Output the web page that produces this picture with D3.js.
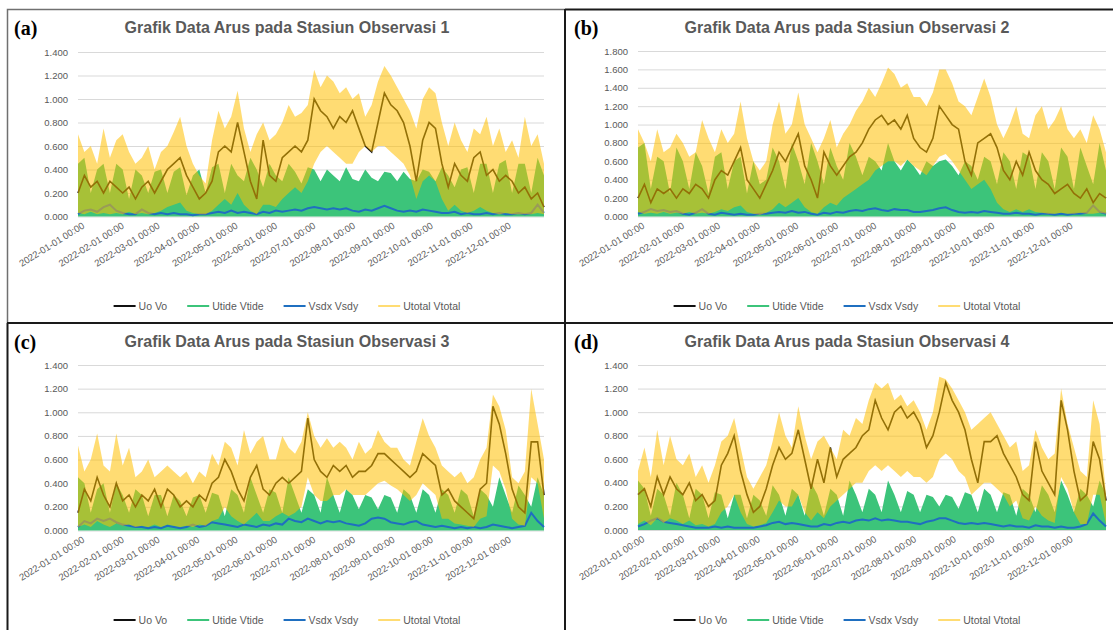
<!DOCTYPE html>
<html>
<head>
<meta charset="utf-8">
<script src="https://cdn.jsdelivr.net/npm/d3@7/dist/d3.min.js"></script>
<style>
  body { margin: 0; background: #fff; }
  svg { display: block; font-family: "Liberation Sans", Arial, sans-serif; }
</style>
</head>
<body>
<div class="canvas"></div>
<script>
// labels
const titles = [
  "Grafik Data Arus pada Stasiun Observasi 1",
  "Grafik Data Arus pada Stasiun Observasi 2",
  "Grafik Data Arus pada Stasiun Observasi 3",
  "Grafik Data Arus pada Stasiun Observasi 4"
];
const tags = ["(a)", "(b)", "(c)", "(d)"];
const seriesNames = ["Uo Vo", "Utide Vtide", "Vsdx Vsdy", "Utotal Vtotal"];
const monthTicks = [
  "2022-01-01 00:00", "2022-02-01 00:00", "2022-03-01 00:00", "2022-04-01 00:00",
  "2022-05-01 00:00", "2022-06-01 00:00", "2022-07-01 00:00", "2022-08-01 00:00",
  "2022-09-01 00:00", "2022-10-01 00:00", "2022-11-01 00:00", "2022-12-01 00:00"
];
const yTicks14 = [0, 0.2, 0.4, 0.6, 0.8, 1.0, 1.2, 1.4];
const yTicks18 = [0, 0.2, 0.4, 0.6, 0.8, 1.0, 1.2, 1.4, 1.6, 1.8];

// one value every 5 days from 2022-01-01
const stepDays = 5;

// station 1
const uoA = [0.2,0.35,0.25,0.3,0.2,0.3,0.25,0.2,0.25,0.15,
  0.25,0.3,0.2,0.3,0.4,0.45,0.5,0.35,0.25,0.15,
  0.2,0.3,0.55,0.6,0.55,0.8,0.55,0.3,0.15,0.65,
  0.35,0.3,0.5,0.55,0.6,0.55,0.65,1.0,0.9,0.85,
  0.75,0.85,0.8,0.9,0.75,0.6,0.55,0.8,1.05,0.95,
  0.9,0.8,0.6,0.3,0.65,0.8,0.75,0.45,0.25,0.45,
  0.35,0.3,0.5,0.55,0.35,0.4,0.3,0.35,0.3,0.2,
  0.25,0.15,0.2,0.08];
const tideA = [0.45,0.5,0.2,0.4,0.45,0.2,0.45,0.4,0.15,0.4,
  0.35,0.2,0.38,0.4,0.2,0.38,0.42,0.18,0.35,0.4,
  0.2,0.42,0.45,0.2,0.45,0.35,0.3,0.5,0.4,0.25,
  0.45,0.35,0.3,0.45,0.38,0.28,0.42,0.4,0.3,0.4,
  0.35,0.3,0.42,0.32,0.3,0.4,0.33,0.3,0.38,0.37,
  0.3,0.38,0.32,0.3,0.4,0.38,0.3,0.42,0.35,0.25,
  0.4,0.42,0.2,0.45,0.45,0.2,0.45,0.48,0.2,0.45,
  0.45,0.2,0.5,0.35];
const sdxA = [0.02,0.05,0.06,0.04,0.08,0.1,0.05,0.03,0.02,0.02,
  0.06,0.03,0.02,0.03,0.02,0.03,0.02,0.02,0.01,0.02,
  0.02,0.03,0.04,0.03,0.05,0.03,0.04,0.03,0.02,0.04,
  0.03,0.05,0.04,0.05,0.06,0.05,0.07,0.08,0.07,0.06,
  0.07,0.06,0.07,0.05,0.04,0.06,0.05,0.07,0.09,0.07,
  0.05,0.04,0.05,0.04,0.06,0.05,0.04,0.03,0.03,0.04,
  0.02,0.03,0.02,0.02,0.03,0.02,0.03,0.02,0.02,0.03,
  0.02,0.03,0.1,0.03];
const totHiA = [0.7,0.55,0.6,0.45,0.75,0.5,0.65,0.7,0.55,0.45,
  0.5,0.6,0.4,0.55,0.6,0.72,0.85,0.6,0.45,0.35,
  0.28,0.65,0.9,0.75,0.85,1.07,0.75,0.55,0.7,0.8,
  0.65,0.7,0.8,0.95,0.85,0.88,0.95,1.25,1.1,1.2,
  1.15,1.05,1.1,1.0,1.05,0.85,0.95,1.15,1.28,1.2,
  1.1,1.0,0.9,0.75,1.0,1.1,1.05,0.8,0.6,0.8,
  0.65,0.55,0.75,0.7,0.85,0.6,0.75,0.55,0.65,0.5,
  0.85,0.6,0.7,0.45];
const totLoA = [0.03,0.02,0.04,0.02,0.03,0.02,0.03,0.02,0.04,0.02,
  0.03,0.02,0.03,0.05,0.08,0.1,0.12,0.05,0.03,0.02,
  0.02,0.05,0.1,0.15,0.1,0.2,0.1,0.05,0.02,0.1,
  0.1,0.08,0.15,0.2,0.25,0.2,0.3,0.45,0.55,0.6,
  0.55,0.5,0.45,0.45,0.55,0.6,0.55,0.6,0.6,0.55,
  0.5,0.45,0.35,0.15,0.3,0.35,0.3,0.15,0.05,0.1,
  0.05,0.03,0.05,0.08,0.05,0.03,0.02,0.03,0.02,0.02,
  0.02,0.02,0.03,0.02];

// station 2
const uoB = [0.2,0.35,0.15,0.3,0.25,0.3,0.2,0.3,0.25,0.35,
  0.3,0.2,0.4,0.5,0.45,0.6,0.75,0.4,0.3,0.2,
  0.35,0.5,0.7,0.6,0.75,0.9,0.55,0.4,0.2,0.7,
  0.55,0.45,0.55,0.65,0.7,0.8,0.95,1.05,1.1,1.0,
  1.05,0.95,1.1,0.85,0.75,0.7,0.85,1.2,1.1,1.0,
  0.95,0.6,0.45,0.8,0.85,0.9,0.75,0.5,0.4,0.6,
  0.45,0.7,0.5,0.4,0.35,0.25,0.3,0.35,0.25,0.2,
  0.3,0.15,0.25,0.2];
const tideB = [0.75,0.8,0.3,0.65,0.6,0.25,0.75,0.6,0.3,0.7,
  0.55,0.25,0.65,0.7,0.3,0.6,0.65,0.25,0.6,0.35,
  0.4,0.75,0.6,0.3,0.8,0.6,0.35,0.8,0.6,0.35,
  0.75,0.55,0.4,0.8,0.65,0.45,0.65,0.6,0.5,0.8,
  0.6,0.5,0.62,0.55,0.45,0.6,0.55,0.6,0.62,0.55,
  0.45,0.6,0.55,0.4,0.65,0.6,0.35,0.7,0.6,0.3,
  0.7,0.65,0.3,0.7,0.6,0.3,0.75,0.65,0.3,0.75,
  0.55,0.35,0.8,0.5];
const sdxB = [0.03,0.05,0.08,0.06,0.07,0.05,0.06,0.03,0.02,0.04,
  0.08,0.03,0.02,0.04,0.03,0.02,0.03,0.02,0.02,0.03,
  0.03,0.04,0.05,0.04,0.06,0.04,0.05,0.03,0.02,0.04,
  0.03,0.05,0.04,0.06,0.07,0.06,0.08,0.09,0.07,0.06,
  0.08,0.07,0.07,0.05,0.05,0.06,0.07,0.09,0.1,0.07,
  0.05,0.04,0.05,0.04,0.06,0.05,0.04,0.03,0.03,0.04,
  0.03,0.03,0.02,0.03,0.03,0.02,0.03,0.02,0.03,0.03,
  0.04,0.12,0.05,0.03];
const totHiB = [0.95,0.8,0.6,0.95,0.7,0.75,0.9,0.8,0.65,0.7,
  1.05,0.85,0.7,0.95,0.8,0.9,1.25,0.85,0.6,0.5,
  0.6,1.0,1.25,0.9,1.0,1.35,1.0,0.85,0.7,0.85,
  1.05,0.75,0.9,1.0,1.15,1.25,1.4,1.3,1.45,1.62,
  1.55,1.4,1.45,1.3,1.3,1.2,1.35,1.6,1.6,1.45,
  1.25,1.2,1.1,1.3,1.5,1.3,1.0,0.85,1.0,1.2,
  0.9,0.85,1.1,1.2,0.95,1.05,1.2,0.95,0.85,0.95,
  0.8,1.1,0.95,0.7];
const totLoB = [0.05,0.03,0.04,0.03,0.05,0.03,0.04,0.03,0.05,0.03,
  0.04,0.03,0.05,0.08,0.06,0.1,0.12,0.05,0.03,0.02,
  0.04,0.08,0.15,0.1,0.15,0.2,0.1,0.05,0.03,0.1,
  0.15,0.12,0.2,0.25,0.3,0.35,0.4,0.5,0.55,0.6,
  0.6,0.55,0.62,0.55,0.5,0.45,0.55,0.65,0.68,0.6,
  0.5,0.4,0.3,0.35,0.4,0.3,0.15,0.08,0.05,0.08,
  0.05,0.08,0.05,0.04,0.03,0.03,0.04,0.03,0.03,0.04,
  0.03,0.03,0.04,0.03];

// station 3
const uoC = [0.15,0.35,0.25,0.45,0.3,0.2,0.4,0.25,0.3,0.2,
  0.3,0.25,0.35,0.2,0.35,0.3,0.2,0.25,0.2,0.3,
  0.25,0.4,0.45,0.6,0.5,0.35,0.25,0.45,0.55,0.35,
  0.3,0.4,0.45,0.4,0.45,0.5,0.95,0.6,0.5,0.45,
  0.55,0.5,0.55,0.45,0.5,0.5,0.55,0.65,0.65,0.6,
  0.55,0.5,0.45,0.5,0.65,0.6,0.55,0.3,0.35,0.25,
  0.2,0.15,0.1,0.35,0.4,1.05,0.9,0.65,0.35,0.2,
  0.15,0.75,0.75,0.3];
const tideC = [0.45,0.4,0.15,0.35,0.4,0.15,0.4,0.3,0.15,0.35,
  0.3,0.12,0.3,0.3,0.12,0.3,0.25,0.12,0.28,0.3,
  0.15,0.32,0.3,0.12,0.35,0.3,0.15,0.45,0.3,0.15,
  0.35,0.32,0.15,0.45,0.3,0.15,0.35,0.3,0.15,0.45,
  0.3,0.15,0.35,0.3,0.18,0.3,0.28,0.18,0.3,0.28,
  0.15,0.35,0.3,0.15,0.35,0.3,0.15,0.35,0.3,0.15,
  0.35,0.3,0.12,0.35,0.3,0.2,0.45,0.3,0.15,0.38,
  0.3,0.2,0.45,0.3];
const sdxC = [0.03,0.08,0.06,0.1,0.08,0.1,0.07,0.05,0.04,0.03,
  0.03,0.02,0.03,0.02,0.04,0.03,0.02,0.03,0.05,0.03,
  0.04,0.07,0.06,0.05,0.04,0.03,0.05,0.04,0.03,0.05,
  0.04,0.06,0.05,0.1,0.08,0.07,0.1,0.08,0.06,0.08,
  0.07,0.08,0.06,0.05,0.04,0.06,0.1,0.11,0.1,0.07,
  0.06,0.05,0.07,0.08,0.05,0.04,0.03,0.04,0.03,0.02,
  0.03,0.02,0.03,0.02,0.03,0.05,0.04,0.03,0.02,0.03,
  0.04,0.15,0.08,0.03];
const totHiC = [0.72,0.5,0.6,0.82,0.55,0.5,0.82,0.55,0.7,0.45,
  0.5,0.6,0.45,0.5,0.55,0.5,0.45,0.5,0.4,0.5,
  0.45,0.65,0.55,0.75,0.7,0.55,0.85,0.65,0.75,0.8,
  0.6,0.6,0.8,0.7,0.65,0.75,1.0,0.8,0.7,0.78,
  0.7,0.75,0.7,0.6,0.75,0.65,0.7,0.85,0.75,0.7,
  0.7,0.6,0.55,0.75,0.95,0.8,0.7,0.55,0.5,0.45,
  0.5,0.4,0.45,0.6,0.7,1.15,1.05,0.85,0.45,0.4,
  0.5,1.2,0.9,0.6];
const totLoC = [0.03,0.05,0.03,0.08,0.05,0.03,0.06,0.04,0.05,0.03,
  0.04,0.03,0.05,0.03,0.05,0.04,0.03,0.04,0.03,0.05,
  0.04,0.08,0.1,0.2,0.12,0.08,0.05,0.1,0.15,0.08,
  0.08,0.12,0.15,0.12,0.15,0.2,0.45,0.3,0.25,0.25,
  0.3,0.3,0.35,0.3,0.3,0.3,0.35,0.4,0.42,0.38,
  0.35,0.3,0.25,0.3,0.4,0.35,0.3,0.1,0.1,0.06,
  0.05,0.04,0.03,0.1,0.12,0.55,0.5,0.35,0.1,0.05,
  0.04,0.45,0.4,0.1];

// station 4
const uoD = [0.3,0.35,0.2,0.45,0.3,0.45,0.35,0.3,0.4,0.25,
  0.3,0.2,0.25,0.55,0.65,0.8,0.5,0.3,0.15,0.2,
  0.35,0.55,0.7,0.6,0.65,0.85,0.6,0.35,0.6,0.4,
  0.7,0.45,0.6,0.65,0.7,0.8,0.85,1.1,0.95,0.85,
  1.0,1.05,0.95,1.0,0.9,0.7,0.8,1.0,1.25,1.1,
  1.0,0.85,0.6,0.4,0.75,0.75,0.8,0.65,0.55,0.45,
  0.3,0.25,0.75,0.5,0.4,0.3,1.1,0.85,0.5,0.25,
  0.3,0.75,0.6,0.25];
const tideD = [0.42,0.35,0.12,0.35,0.3,0.12,0.4,0.3,0.1,0.35,
  0.3,0.1,0.32,0.3,0.1,0.3,0.3,0.1,0.3,0.25,
  0.12,0.38,0.3,0.12,0.35,0.3,0.12,0.4,0.3,0.12,
  0.35,0.3,0.12,0.42,0.3,0.15,0.35,0.3,0.15,0.42,
  0.3,0.15,0.33,0.3,0.15,0.3,0.28,0.2,0.3,0.28,
  0.18,0.32,0.3,0.15,0.35,0.3,0.15,0.32,0.3,0.12,
  0.35,0.3,0.15,0.38,0.3,0.15,0.42,0.3,0.15,0.35,
  0.3,0.2,0.42,0.3];
const sdxD = [0.03,0.05,0.08,0.1,0.07,0.06,0.05,0.04,0.03,0.02,
  0.02,0.02,0.03,0.02,0.03,0.02,0.02,0.02,0.02,0.03,
  0.04,0.06,0.07,0.05,0.06,0.05,0.04,0.03,0.03,0.05,
  0.04,0.06,0.07,0.06,0.08,0.09,0.08,0.1,0.08,0.09,
  0.08,0.07,0.07,0.06,0.05,0.07,0.08,0.1,0.1,0.08,
  0.06,0.05,0.06,0.05,0.06,0.05,0.04,0.03,0.04,0.03,
  0.03,0.02,0.04,0.03,0.03,0.02,0.03,0.02,0.02,0.03,
  0.05,0.14,0.08,0.03];
const totHiD = [0.5,0.7,0.45,0.85,0.55,0.8,0.6,0.55,0.65,0.45,
  0.55,0.4,0.55,0.75,0.8,0.95,0.7,0.45,0.35,0.45,
  0.55,0.75,1.0,0.8,0.7,1.05,0.8,0.6,0.75,0.8,
  0.7,0.6,0.85,0.8,0.95,0.9,1.1,1.25,1.2,1.25,
  1.1,1.15,1.05,1.1,1.0,0.85,1.0,1.3,1.28,1.2,
  1.1,1.0,0.85,0.9,0.95,1.0,0.9,0.8,0.7,0.75,
  0.5,0.55,0.85,0.7,0.6,0.65,1.2,0.9,0.7,0.5,
  0.45,1.1,0.9,0.3];
const totLoD = [0.05,0.08,0.04,0.1,0.06,0.1,0.08,0.05,0.08,0.04,
  0.05,0.03,0.05,0.15,0.2,0.3,0.15,0.05,0.03,0.04,
  0.06,0.15,0.25,0.2,0.2,0.3,0.15,0.08,0.15,0.1,
  0.2,0.25,0.3,0.35,0.4,0.4,0.5,0.55,0.5,0.55,
  0.5,0.45,0.5,0.45,0.45,0.4,0.45,0.6,0.65,0.6,
  0.5,0.45,0.3,0.35,0.4,0.4,0.35,0.3,0.2,0.25,
  0.1,0.08,0.2,0.12,0.08,0.06,0.45,0.35,0.15,0.05,
  0.05,0.3,0.3,0.05];

const colors = ["#111111", "#3cc47a", "#1f6fc0", "#ffc000"];

// panel layout
const panels = [
  { tag: tags[0], title: titles[0], uo: uoA, tide: tideA, sdx: sdxA, hi: totHiA, lo: totLoA,
    yMax: 1.4, yTicks: yTicks14, left: 78, right: 544, top: 52, bottom: 216.5,
    cx: 287, tagX: 14, titleY: 33, legendY: 306 },
  { tag: tags[1], title: titles[1], uo: uoB, tide: tideB, sdx: sdxB, hi: totHiB, lo: totLoB,
    yMax: 1.8, yTicks: yTicks18, left: 638, right: 1106, top: 51, bottom: 216.5,
    cx: 847, tagX: 574, titleY: 33, legendY: 306 },
  { tag: tags[2], title: titles[2], uo: uoC, tide: tideC, sdx: sdxC, hi: totHiC, lo: totLoC,
    yMax: 1.4, yTicks: yTicks14, left: 78, right: 544, top: 365, bottom: 530.5,
    cx: 287, tagX: 14, titleY: 347, legendY: 620 },
  { tag: tags[3], title: titles[3], uo: uoD, tide: tideD, sdx: sdxD, hi: totHiD, lo: totLoD,
    yMax: 1.4, yTicks: yTicks14, left: 638, right: 1106, top: 365, bottom: 530,
    cx: 847, tagX: 574, titleY: 347, legendY: 620 }
];

const svg = d3
  .select(".canvas")
  .append("svg")
  .attr("width", 1113)
  .attr("height", 630);

const parseTick = d3.timeParse("%Y-%m-%d %H:%M");
const startDate = parseTick(monthTicks[0]);
const dateAt = (i) => d3.timeDay.offset(startDate, i * stepDays);

panels.forEach((p) => {
  const g = svg.append("g");

  const x = d3
    .scaleTime()
    .domain([startDate, d3.timeDay.offset(startDate, 365)])
    .range([p.left, p.right]);
  const y = d3.scaleLinear().domain([0, p.yMax]).range([p.bottom, p.top]);

  // gridlines + y labels
  const yAxis = d3
    .axisLeft(y)
    .tickValues(p.yTicks)
    .tickSize(-(p.right - p.left))
    .tickFormat(d3.format(".3f"));
  const yg = g.append("g").attr("transform", `translate(${p.left},0)`).call(yAxis);
  yg.select(".domain").remove();
  yg.selectAll("line").attr("stroke", "#d9d9d9");
  yg.selectAll("text")
    .attr("x", -10)
    .attr("fill", "#595959")
    .style("font-size", "9.5px");

  // x labels
  const xAxis = d3
    .axisBottom(x)
    .tickValues(monthTicks.map(parseTick))
    .tickSize(0)
    .tickFormat(d3.timeFormat("%Y-%m-%d %H:%M"));
  const xg = g.append("g").attr("transform", `translate(0,${p.bottom})`).call(xAxis);
  xg.select(".domain").remove();
  xg.selectAll("text")
    .attr("y", 0)
    .attr("dy", "0.35em")
    .attr("transform", "translate(5,8) rotate(-32)")
    .attr("text-anchor", "end")
    .attr("fill", "#595959")
    .style("font-size", "9.5px");

  // series
  const tideArea = d3
    .area()
    .x((d, i) => x(dateAt(i)))
    .y0(y(0))
    .y1((d) => y(d));
  g.append("path").datum(p.tide).attr("fill", colors[1]).attr("d", tideArea);

  const line = d3
    .line()
    .x((d, i) => x(dateAt(i)))
    .y((d) => y(d));
  g.append("path")
    .datum(p.uo)
    .attr("fill", "none")
    .attr("stroke", colors[0])
    .attr("stroke-width", 1.6)
    .attr("d", line);
  g.append("path")
    .datum(p.sdx)
    .attr("fill", "none")
    .attr("stroke", colors[2])
    .attr("stroke-width", 2)
    .attr("d", line);

  const totArea = d3
    .area()
    .x((d, i) => x(dateAt(i)))
    .y0((d) => y(d[0]))
    .y1((d) => y(d[1]));
  g.append("path")
    .datum(d3.zip(p.lo, p.hi))
    .attr("fill", colors[3])
    .attr("fill-opacity", 0.55)
    .attr("d", totArea);

  // title + tag
  g.append("text")
    .attr("x", p.cx)
    .attr("y", p.titleY)
    .attr("text-anchor", "middle")
    .attr("fill", "#595959")
    .style("font-size", "16px")
    .style("font-weight", "bold")
    .text(p.title);
  g.append("text")
    .attr("x", p.tagX)
    .attr("y", p.titleY + 2)
    .style("font-family", "'Liberation Serif', 'Times New Roman', serif")
    .style("font-size", "20px")
    .style("font-weight", "bold")
    .attr("fill", "#000")
    .text(p.tag);

  // legend
  const leg = g.append("g");
  let cur = 0;
  seriesNames.forEach((name, k) => {
    const item = leg.append("g").attr("transform", `translate(${cur},0)`);
    item.append("line")
      .attr("x1", 0).attr("x2", 22)
      .attr("y1", 0).attr("y2", 0)
      .attr("stroke", colors[k])
      .attr("stroke-opacity", k === 3 ? 0.55 : 1)
      .attr("stroke-width", 2);
    const t = item.append("text")
      .attr("x", 25)
      .attr("dy", "0.35em")
      .attr("fill", "#595959")
      .style("font-size", "10.5px")
      .text(name);
    cur += 25 + t.node().getComputedTextLength() + 20;
  });
  const legW = cur - 20;
  leg.attr("transform", `translate(${p.cx - legW / 2},${p.legendY})`);
});

// panel frames
const frame = svg.append("g").attr("fill", "none");
frame.append("path").attr("d", "M7.5,323 V9.5 H565").attr("stroke", "#707070").attr("stroke-width", 1.5);
frame.append("path").attr("d", "M565,9.5 H1113 M565,9 V630 M7,323 H1113 M7.5,323 V630")
  .attr("stroke", "#1a1a1a").attr("stroke-width", 2);
</script>
</body>
</html>
